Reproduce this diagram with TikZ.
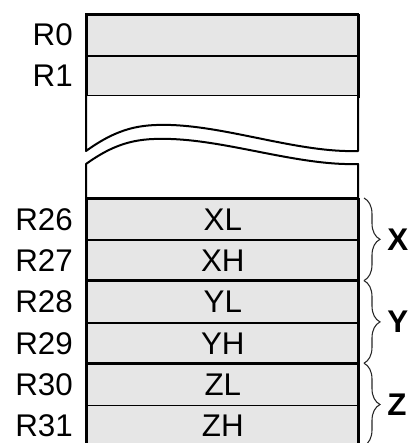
\documentclass[tikz,border=0pt]{standalone}
\usepackage{fontspec}
\setmainfont{Liberation Sans}
\usetikzlibrary{decorations.pathreplacing}
\definecolor{regfill}{HTML}{E6E6E6}
\begin{document}
\begin{tikzpicture}[x=0.75pt,y=-0.75pt,
  txt/.style={font=\fontsize{23.5}{28}\selectfont, inner sep=0pt},
  reg/.style={txt, draw=black, line width=1.2pt, fill=regfill,
    minimum width=204pt, minimum height=31pt, anchor=north west},
  rlabel/.style={txt, anchor=east},
  pairbox/.style={draw=black, line width=1.8pt},
  gapedge/.style={draw=black, line width=1.5pt, fill=white, line join=round},
  pairbrace/.style={draw=black!85, line width=0.8pt,
    decorate, decoration={brace, amplitude=12pt}},
  pairname/.style={txt, font=\fontsize{23.5}{28}\selectfont\bfseries, anchor=west}]
  \useasboundingbox (0,0) rectangle (411,443);
  \clip (0,0) rectangle (411,443);

  % low registers R0, R1
  \node[reg] (r0) at (86,14) {};
  \node[reg] (r1) at (86,55) {};
  \draw[pairbox] (86,14) rectangle (358,96);
  \node[rlabel] (l0) at (73,34.5) {R0};
  \node[rlabel] (l1) at (73,75.5) {R1};

  % torn section between R1 and R26
  \path[gapedge] (86,96) -- (86,151)
    .. controls (118,128) and (140,124) .. (171,125)
    .. controls (230,127) and (300,153) .. (358,151) -- (358,96);
  \path[gapedge] (86,198) -- (86,164)
    .. controls (118,141) and (140,138) .. (171,139)
    .. controls (230,141) and (300,166) .. (358,164) -- (358,198);

  % pointer registers R26..R31
  \node[reg] (r26) at (86,198.0) {};
  \node[reg] (r27) at (86,239.3) {};
  \node[reg] (r28) at (86,280.6) {};
  \node[reg] (r29) at (86,321.9) {};
  \node[reg] (r30) at (86,363.2) {};
  \node[reg] (r31) at (86,404.5) {};
  \foreach \r/\t in {r26/XL, r27/XH, r28/YL, r29/YH, r30/ZL, r31/ZH}
    \node[txt] (\r t) at (\r.center) {\t};
  \draw[pairbox] (86,198.0) rectangle (358,280.6);
  \draw[pairbox] (86,280.6) rectangle (358,363.2);
  \draw[pairbox] (86,363.2) rectangle (358,445.8);

  \coordinate (lx) at (73,0);
  \foreach \r/\t in {r26/R26, r27/R27, r28/R28, r29/R29, r30/R30, r31/R31}
    \node[rlabel] (l\r) at (lx |- \r.center) {\t};

  % pointer pairs X, Y, Z
  \coordinate (bx1) at (364,198.0);
  \coordinate (bx2) at (364,280.6);
  \coordinate (by2) at (364,363.2);
  \coordinate (bz2) at (364,445.8);
  \draw[pairbrace] (bx1) -- (bx2);
  \draw[pairbrace] (bx2) -- (by2);
  \draw[pairbrace] (by2) -- (bz2);
  \node[pairname] (px) at (387,239.3) {X};
  \node[pairname] (py) at (387,321.9) {Y};
  \node[pairname] (pz) at (387,404.5) {Z};
\end{tikzpicture}
\end{document}
